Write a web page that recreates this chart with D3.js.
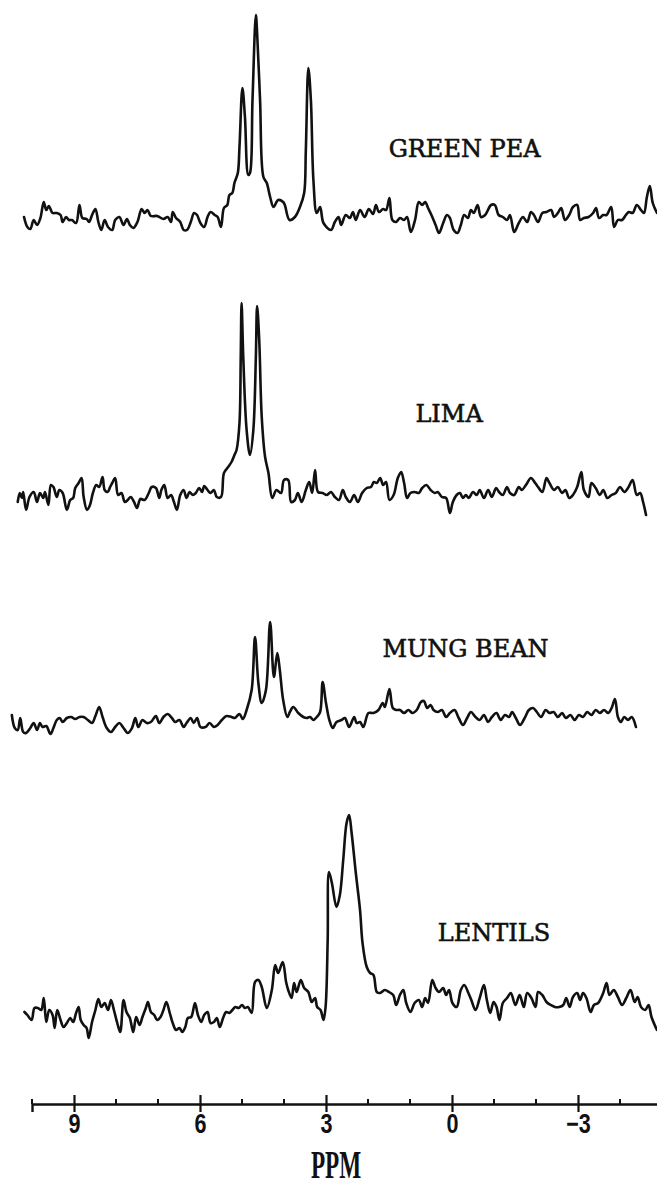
<!DOCTYPE html>
<html>
<head>
<meta charset="utf-8">
<script src="https://cdn.jsdelivr.net/npm/d3@7"></script>
<style>
  body { margin: 0; background: #fff; }
  svg { display: block; }
</style>
</head>
<body>
<div id="chart"></div>
<script>
// Spectra: chemical shift (ppm) and relative intensity
var greenPeaPpm = [10.19,10.11,10.04,9.96,9.88,9.80,9.72,9.66,9.60,9.51,9.41,9.32,9.27,9.19,9.12,9.05,8.95,8.87,8.80,8.70,8.64,8.57,8.49,8.42,8.35,8.27,8.19,8.09,8.02,7.92,7.82,7.74,7.67,7.59,7.49,7.39,7.32,7.25,7.17,7.02,6.87,6.77,6.69,6.65,6.57,6.47,6.39,6.31,6.22,6.14,6.07,5.99,5.90,5.82,5.75,5.65,5.58,5.50,5.43,5.35,5.30,5.23,5.18,5.10,5.06,4.99,4.93,4.85,4.81,4.75,4.67,4.64,4.57,4.49,4.41,4.33,4.25,4.14,4.02,3.98,3.87,3.74,3.62,3.52,3.48,3.42,3.36,3.30,3.22,3.14,3.06,2.88,2.79,2.70,2.64,2.53,2.43,2.36,2.29,2.19,2.08,1.98,1.88,1.81,1.74,1.64,1.57,1.49,1.42,1.33,1.24,1.14,1.07,0.98,0.88,0.79,0.71,0.64,0.57,0.49,0.39,0.31,0.21,0.12,0.05,-0.04,-0.13,-0.21,-0.29,-0.38,-0.45,-0.52,-0.61,-0.69,-0.79,-0.93,-1.02,-1.11,-1.21,-1.31,-1.38,-1.48,-1.59,-1.69,-1.79,-1.88,-1.95,-2.05,-2.15,-2.25,-2.36,-2.43,-2.52,-2.60,-2.69,-2.79,-2.88,-2.98,-3.05,-3.14,-3.25,-3.36,-3.43,-3.50,-3.60,-3.68,-3.79,-3.86,-3.95,-4.05,-4.14,-4.21,-4.30,-4.40,-4.50,-4.57,-4.64,-4.71,-4.78,-4.88];
var greenPeaInt = [18,8,6,15,10,17,33,25,29,22,22,20,13,18,15,15,12,30,17,16,13,20,26,13,5,15,8,5,15,18,10,16,10,7,13,26,22,25,19,19,16,18,13,23,17,13,5,5,13,22,20,12,8,18,23,20,18,8,27,30,40,42,52,62,88,147,118,60,62,135,220,202,135,58,52,38,28,35,33,30,15,18,28,42,85,167,135,55,22,28,12,5,13,18,10,20,17,23,15,25,18,26,21,30,23,26,25,37,15,13,17,15,18,3,15,33,30,33,27,20,10,2,12,20,17,5,2,10,20,17,25,22,30,18,20,30,30,20,18,15,20,3,12,18,13,23,20,13,22,23,25,18,22,27,15,20,28,30,15,17,18,22,27,17,20,20,28,8,15,15,20,23,22,30,25,22,38,49,32,22];

var limaPpm = [10.34,10.29,10.24,10.21,10.14,10.06,9.96,9.88,9.81,9.73,9.69,9.61,9.55,9.49,9.41,9.35,9.27,9.17,9.09,9.02,8.97,8.89,8.82,8.77,8.69,8.62,8.55,8.47,8.40,8.32,8.27,8.20,8.14,8.09,8.02,7.95,7.87,7.79,7.72,7.65,7.57,7.50,7.42,7.32,7.22,7.15,7.05,6.97,6.92,6.85,6.77,6.69,6.62,6.55,6.47,6.39,6.32,6.25,6.17,6.10,6.02,5.95,5.90,5.82,5.75,5.67,5.60,5.50,5.43,5.33,5.25,5.18,5.13,5.06,5.03,5.01,4.97,4.89,4.81,4.73,4.67,4.64,4.59,4.53,4.45,4.37,4.28,4.18,4.07,4.00,3.90,3.83,3.74,3.67,3.58,3.48,3.40,3.33,3.26,3.19,3.08,2.98,2.88,2.79,2.69,2.60,2.53,2.43,2.33,2.24,2.14,2.03,1.93,1.86,1.79,1.71,1.64,1.57,1.49,1.39,1.29,1.21,1.14,1.07,0.99,0.89,0.79,0.71,0.61,0.51,0.41,0.34,0.24,0.14,0.05,-0.02,-0.11,-0.19,-0.26,-0.33,-0.40,-0.50,-0.59,-0.66,-0.76,-0.86,-0.95,-1.05,-1.12,-1.21,-1.31,-1.38,-1.48,-1.59,-1.66,-1.76,-1.88,-1.98,-2.05,-2.15,-2.25,-2.32,-2.43,-2.52,-2.62,-2.70,-2.79,-2.88,-2.98,-3.08,-3.14,-3.25,-3.32,-3.42,-3.52,-3.60,-3.70,-3.80,-3.90,-4.00,-4.10,-4.19,-4.30,-4.40,-4.48,-4.55,-4.62];
var limaInt = [18,27,22,28,10,23,28,18,27,22,28,15,35,33,23,30,27,10,20,22,32,37,42,23,10,15,27,35,33,43,30,28,33,37,42,25,27,18,20,23,18,12,21,20,27,33,32,22,30,35,22,25,18,10,25,30,22,28,25,27,32,28,34,30,27,30,23,23,47,53,58,65,70,97,163,217,163,90,65,90,163,214,180,103,63,47,22,30,27,40,40,18,20,27,18,30,38,27,50,28,27,25,28,23,20,30,23,18,25,18,27,32,33,38,37,42,35,38,20,25,42,48,37,22,27,28,27,32,35,30,27,28,23,22,7,18,25,27,22,25,22,28,25,30,22,30,23,32,28,25,33,27,25,33,30,35,42,37,33,28,42,37,30,33,27,30,22,25,33,48,30,23,37,32,25,30,22,25,27,33,28,32,40,25,27,18,5];

var mungPpm = [10.48,10.41,10.34,10.28,10.21,10.14,10.04,9.96,9.88,9.81,9.75,9.66,9.56,9.49,9.41,9.34,9.27,9.17,9.07,8.97,8.87,8.77,8.67,8.57,8.49,8.40,8.32,8.22,8.12,8.02,7.92,7.82,7.72,7.62,7.54,7.47,7.37,7.27,7.17,7.05,6.97,6.87,6.77,6.67,6.59,6.49,6.39,6.32,6.22,6.15,6.07,5.99,5.87,5.77,5.67,5.58,5.48,5.37,5.25,5.17,5.06,4.98,4.89,4.77,4.69,4.61,4.53,4.43,4.33,4.24,4.16,4.10,4.02,3.92,3.86,3.78,3.66,3.54,3.46,3.38,3.30,3.22,3.14,3.08,3.00,2.92,2.84,2.75,2.63,2.55,2.45,2.33,2.27,2.19,2.11,1.99,1.87,1.75,1.65,1.60,1.49,1.41,1.33,1.24,1.14,1.04,0.94,0.84,0.74,0.67,0.59,0.51,0.44,0.34,0.24,0.14,0.05,-0.06,-0.16,-0.26,-0.36,-0.45,-0.56,-0.66,-0.76,-0.86,-0.95,-1.06,-1.16,-1.26,-1.36,-1.43,-1.52,-1.62,-1.73,-1.83,-1.93,-2.02,-2.12,-2.23,-2.32,-2.42,-2.52,-2.62,-2.71,-2.82,-2.92,-3.02,-3.12,-3.22,-3.32,-3.42,-3.52,-3.62,-3.72,-3.80,-3.88,-3.95,-4.02,-4.10,-4.19,-4.28,-4.38];
var mungInt = [25,12,10,22,8,7,12,17,10,17,13,14,6,12,20,22,18,22,23,21,23,23,20,17,24,33,23,12,8,13,17,12,7,12,22,13,20,17,18,24,17,23,26,22,18,20,13,17,22,17,22,13,13,17,13,15,20,24,23,22,26,21,30,50,103,57,37,50,118,63,87,70,40,23,28,33,27,23,22,23,20,23,28,58,37,20,12,18,20,22,13,23,17,18,13,27,27,30,37,33,51,32,30,30,27,30,27,30,38,39,32,35,30,28,30,23,27,30,22,15,22,28,23,20,25,18,23,27,20,25,23,28,22,15,22,30,32,28,23,30,27,28,23,27,22,25,20,25,23,28,25,30,27,30,27,32,41,23,18,23,20,23,13];

var lentilPpm = [10.18,10.11,10.01,9.94,9.86,9.78,9.72,9.66,9.59,9.51,9.46,9.40,9.32,9.25,9.17,9.09,9.02,8.95,8.89,8.84,8.77,8.70,8.65,8.57,8.49,8.42,8.35,8.27,8.19,8.12,8.05,7.97,7.90,7.82,7.75,7.67,7.59,7.52,7.44,7.37,7.29,7.24,7.17,7.09,7.02,6.94,6.87,6.80,6.72,6.65,6.57,6.49,6.42,6.35,6.29,6.21,6.12,6.05,5.97,5.90,5.82,5.75,5.67,5.60,5.53,5.45,5.38,5.30,5.23,5.16,5.08,5.00,4.93,4.86,4.77,4.69,4.61,4.53,4.41,4.29,4.21,4.14,4.03,3.95,3.90,3.82,3.76,3.70,3.60,3.52,3.42,3.34,3.26,3.21,3.13,3.06,3.01,2.96,2.93,2.86,2.75,2.67,2.59,2.51,2.45,2.39,2.29,2.19,2.13,2.03,1.95,1.87,1.79,1.71,1.60,1.50,1.40,1.33,1.24,1.16,1.09,0.99,0.89,0.79,0.71,0.64,0.57,0.47,0.39,0.31,0.21,0.14,0.07,-0.01,-0.11,-0.21,-0.29,-0.39,-0.46,-0.56,-0.66,-0.76,-0.83,-0.91,-0.99,-1.06,-1.13,-1.21,-1.31,-1.40,-1.51,-1.61,-1.71,-1.79,-1.89,-1.99,-2.05,-2.15,-2.25,-2.35,-2.45,-2.55,-2.65,-2.72,-2.80,-2.88,-2.98,-3.05,-3.12,-3.20,-3.30,-3.38,-3.48,-3.60,-3.68,-3.75,-3.85,-3.95,-4.05,-4.15,-4.25,-4.35,-4.42,-4.50,-4.60,-4.68,-4.75,-4.88];
var lentilInt = [33,30,25,37,37,35,47,23,35,30,17,35,25,18,22,27,23,32,38,25,20,17,7,23,35,46,38,42,35,45,35,22,13,45,33,27,13,28,20,28,37,43,33,30,25,28,35,43,32,22,15,17,13,18,27,28,42,30,23,30,33,22,23,27,18,27,33,32,35,38,37,40,37,38,32,63,65,58,37,55,80,72,83,63,55,47,62,53,65,57,53,43,47,38,35,25,38,105,173,162,138,150,185,222,230,212,172,135,102,78,72,70,53,52,55,53,50,40,50,55,42,33,42,45,38,47,42,65,57,53,57,50,55,42,38,55,60,52,45,35,47,60,45,32,43,38,25,42,47,52,40,50,38,52,47,38,53,50,43,40,38,38,40,47,38,48,52,45,52,47,33,40,42,52,62,50,55,48,40,47,55,43,48,38,35,40,28,15];

var sampleNames = ["GREEN PEA", "LIMA", "MUNG BEAN", "LENTILS"];
var labelPpm = [-0.3, 0.07, -0.32, -1.0];
var majorTicks = [9, 6, 3, 0, -3];
var minorTicks = [10, 8, 7, 5, 4, 2, 1, -1, -2, -4];

var svgWidth = 657;
var svgHeight = 1186;

var svg = d3.select("#chart")
  .append("svg")
  .attr("width", svgWidth)
  .attr("height", svgHeight);

// x scale shared by all traces and the axis
var xScale = d3.scaleLinear()
  .domain([10, -5])
  .range([32, 662]);

// each trace gets its own vertical band
var bands = [
  { ppm: greenPeaPpm, val: greenPeaInt, base: 235, labelY: 157 },
  { ppm: limaPpm, val: limaInt, base: 520, labelY: 422 },
  { ppm: mungPpm, val: mungInt, base: 740, labelY: 657 },
  { ppm: lentilPpm, val: lentilInt, base: 1045, labelY: 941 }
];

bands.forEach(function (b, i) {
  var yScale = d3.scaleLinear()
    .domain([0, 100])
    .range([b.base, b.base - 100]);

  var pts = b.ppm.map(function (p, j) { return [p, b.val[j]]; });

  var line = d3.line()
    .x(d => xScale(d[0]))
    .y(d => yScale(d[1]))
    .curve(d3.curveCatmullRom.alpha(0.5));

  svg.append("path")
    .datum(pts)
    .attr("d", line)
    .attr("fill", "none")
    .attr("stroke", "#111")
    .attr("stroke-width", 2.6)
    .attr("stroke-linejoin", "round")
    .attr("stroke-linecap", "round");

  svg.append("text")
    .attr("x", xScale(labelPpm[i]))
    .attr("y", b.labelY)
    .attr("text-anchor", "middle")
    .style("font-family", "'DejaVu Serif', serif")
    .style("font-size", "24px")
    .style("fill", "#111")
    .style("stroke", "#111")
    .style("stroke-width", "0.6px")
    .text(sampleNames[i]);
});

// axis
var axisY = 1104;
var axisGroup = svg.append("g")
  .attr("transform", `translate(0, ${axisY})`)
  .call(d3.axisBottom(xScale)
    .tickValues(majorTicks)
    .tickSize(8)
    .tickFormat(d => d < 0 ? "\u2212" + Math.abs(d) : d));

axisGroup.select(".domain")
  .attr("stroke", "#111")
  .attr("stroke-width", 2.4);

axisGroup.selectAll(".tick line")
  .attr("y1", -9)
  .attr("y2", 8)
  .attr("stroke", "#111")
  .attr("stroke-width", 2.2);

axisGroup.selectAll(".tick text")
  .attr("y", 29)
  .attr("dy", null)
  .attr("transform", "scale(0.8,1)")
  .style("font-family", "'Liberation Sans', Arial, sans-serif")
  .style("font-weight", "bold")
  .style("font-size", "27px")
  .style("fill", "#111");

axisGroup.selectAll(".minor")
  .data(minorTicks)
  .enter()
  .append("line")
  .attr("class", "minor")
  .attr("x1", d => xScale(d))
  .attr("x2", d => xScale(d))
  .attr("y1", -5)
  .attr("y2", 0)
  .attr("stroke", "#111")
  .attr("stroke-width", 2);

svg.append("text")
  .attr("transform", `translate(336, 1178) scale(0.58,1)`)
  .attr("text-anchor", "middle")
  .style("font-family", "'Liberation Serif', serif")
  .style("font-weight", "bold")
  .style("font-size", "40px")
  .style("fill", "#111")
  .text("PPM");
</script>
</body>
</html>
